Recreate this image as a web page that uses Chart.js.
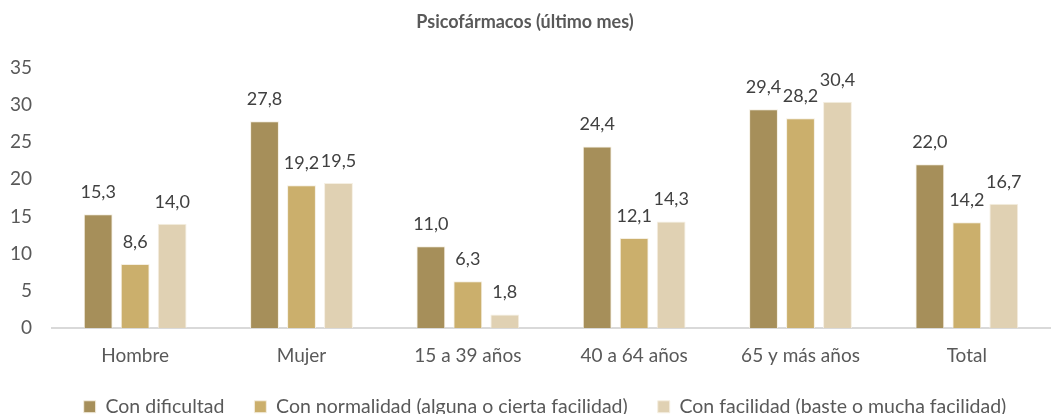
<!DOCTYPE html>
<html>
<head>
<meta charset="utf-8">
<script src="https://cdn.jsdelivr.net/npm/chart.js@4"></script>
<style>
  body { margin: 0; background: #fff; }
  #wrap { width: 1052px; height: 414px; }
</style>
</head>
<body>
<div id="wrap"><canvas id="grafica" width="1052" height="414"></canvas></div>
<script>
const categorias = ['Hombre', 'Mujer', '15 a 39 años', '40 a 64 años', '65 y más años', 'Total'];
const conDificultad = [15.3, 27.8, 11.0, 24.4, 29.4, 22.0];
const conNormalidad = [8.6, 19.2, 6.3, 12.1, 28.2, 14.2];
const conFacilidad = [14.0, 19.5, 1.8, 14.3, 30.4, 16.7];
const ticksY = [0, 5, 10, 15, 20, 25, 30, 35];

const fuente = 'Lato, "Open Sans", sans-serif';

// etiquetas de valor encima de cada barra
const etiquetas = {
    id: 'etiquetas',
    afterDatasetsDraw(chart) {
        const ctx = chart.ctx;
        ctx.save();
        ctx.font = '18px ' + fuente;
        ctx.fillStyle = '#404040';
        ctx.textAlign = 'center';
        ctx.textBaseline = 'middle';
        chart.data.datasets.forEach((ds, i) => {
            chart.getDatasetMeta(i).data.forEach((bar, j) => {
                ctx.fillText(ds.data[j].toFixed(1).replace('.', ','), bar.x, bar.y - 22);
            });
        });
        ctx.restore();
    }
};

// leyenda: alto fijo y algo desplazada a la derecha
const leyendaFija = {
    id: 'leyendaFija',
    afterInit(chart) {
        const leg = chart.legend;
        const fit = leg.fit;
        const draw = leg.draw;
        leg.fit = function() {
            fit.call(this);
            this.height = 47;
        };
        leg.draw = function() {
            this.ctx.save();
            this.ctx.translate(20, 0);
            draw.call(this);
            this.ctx.restore();
        };
    }
};

const ctx = document.getElementById('grafica').getContext('2d');
new Chart(ctx, {
    type: 'bar',
    data: {
        labels: categorias,
        datasets: [
            { label: 'Con dificultad', data: conDificultad, backgroundColor: '#A68F5A' },
            { label: 'Con normalidad (alguna o cierta facilidad)', data: conNormalidad, backgroundColor: '#CBAF6C' },
            { label: 'Con facilidad (baste o mucha facilidad)', data: conFacilidad, backgroundColor: '#E0D1B3' }
        ]
    },
    options: {
        responsive: false,
        animation: false,
        layout: { padding: { left: 0, right: 2, top: 0, bottom: 0 } },
        datasets: {
            bar: {
                categoryPercentage: 0.667,
                barPercentage: 0.78,
                borderColor: '#F5EFE2',
                borderWidth: 1
            }
        },
        plugins: {
            title: {
                display: true,
                text: 'Psicofármacos (último mes)',
                color: '#595959',
                font: { family: fuente, size: 18, weight: 'bold' },
                padding: { top: 11, bottom: 35 }
            },
            legend: {
                position: 'bottom',
                labels: {
                    color: '#595959',
                    font: { family: fuente, size: 19.5 },
                    boxWidth: 12,
                    boxHeight: 12,
                    padding: 30
                }
            },
            tooltip: { enabled: false }
        },
        scales: {
            x: {
                grid: { display: false },
                border: { display: true, color: '#D9D9D9', width: 2 },
                ticks: { color: '#595959', font: { family: fuente, size: 19 }, padding: 8 },
                afterFit: axis => { axis.height = 39; }
            },
            y: {
                min: 0,
                max: 35,
                grid: { display: false },
                border: { display: false },
                afterBuildTicks: axis => { axis.ticks = ticksY.map(v => ({ value: v })); },
                ticks: { color: '#595959', font: { family: fuente, size: 19 }, padding: 12 },
                afterFit: axis => { axis.width = 52; }
            }
        }
    },
    plugins: [etiquetas, leyendaFija]
});
</script>
</body>
</html>
